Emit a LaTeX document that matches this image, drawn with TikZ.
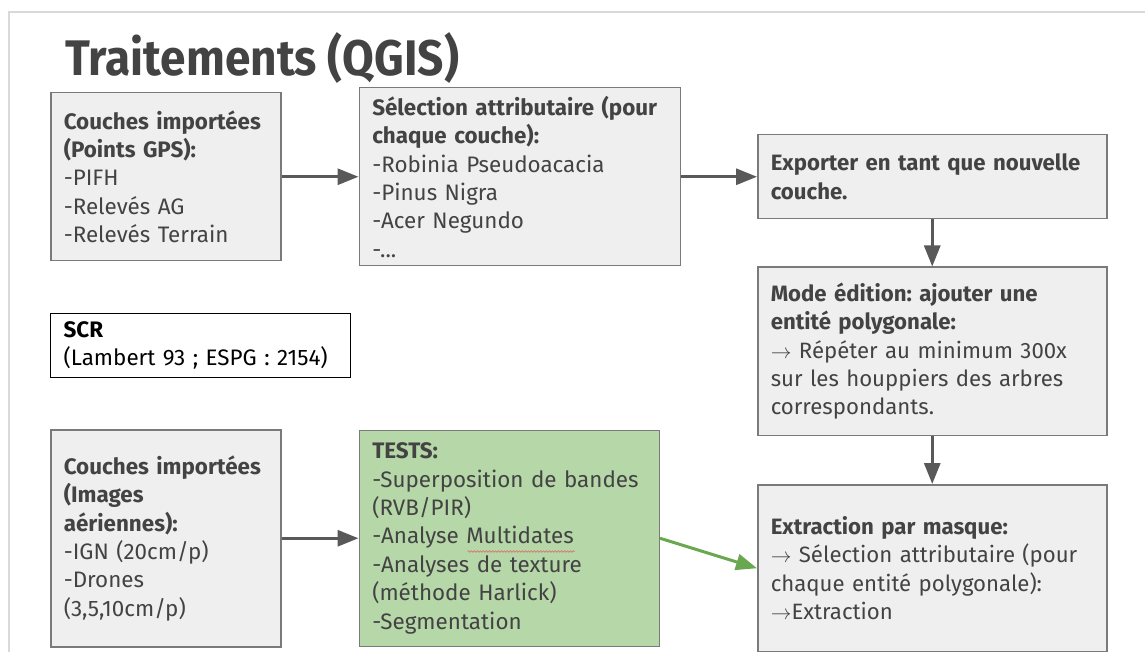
\documentclass[tikz,border=0pt]{standalone}
\usepackage{fontspec}
\usetikzlibrary{positioning,arrows.meta,decorations.pathmorphing}
\setmainfont{Fira Sans}
\newfontfamily\titlefont[FakeStretch=0.92]{Fira Sans}
\definecolor{boxfill}{HTML}{EFEFEF}
\definecolor{boxline}{HTML}{7A7A7A}
\definecolor{testfill}{HTML}{B6D7A8}
\definecolor{ink}{HTML}{434343}
\definecolor{arrowgray}{HTML}{595959}
\definecolor{arrowgreen}{HTML}{6AA84F}
\definecolor{framegray}{HTML}{D9D9D9}
\definecolor{spellred}{HTML}{E06666}
\frenchspacing
\begin{document}
\begin{tikzpicture}[x=1pt, y=-1pt, thick,
    box/.style = {draw=boxline, fill=boxfill, line width=1.5pt, text=ink, align=left,
                  inner xsep=13pt, inner ysep=0pt, font=\fontsize{22.4}{28.4}\selectfont},
    widebox/.style = {box, font=\fontsize{22.2}{28.4}\selectfont},
    testbox/.style = {box, fill=testfill},
    note/.style = {box, draw=black, fill=white, line width=1.2pt, text=black},
    flow/.style = {-{Triangle[length=21pt,width=16pt]}, draw=arrowgray, line width=3pt},
    greenflow/.style = {flow, draw=arrowgreen}]
    \useasboundingbox[fill=white] (0,0) rectangle (1145,652);
    \draw[framegray, line width=2pt] (1145,12) -- (9,12) -- (9,652);
    \node[anchor=base west, inner sep=0pt, text=ink, font=\titlefont\bfseries\fontsize{50}{60}\selectfont] (title) at (65,76) {Traitements (QGIS)};
    % first row
    \node[box, text width=204pt, minimum height=168pt, anchor=north west] (gps) at (50,92)
        {\textbf{Couches importées}\\ \textbf{(Points GPS):}\\ -PIFH\\ -Relevés AG\\ -Relevés Terrain};
    \node[box, text width=295pt, minimum height=178pt, right=77pt of gps] (selection)
        {\textbf{Sélection attributaire (pour}\\ \textbf{chaque couche):}\\ -Robinia Pseudoacacia\\ -Pinus Nigra\\ -Acer Negundo\\ -...};
    \node[widebox, text width=323pt, minimum height=84pt, right=76pt of selection] (export)
        {\textbf{Exporter en tant que nouvelle}\\ \textbf{couche.}};
    \node[widebox, text width=323pt, minimum height=168pt, below=47pt of export] (edition)
        {\textbf{Mode édition: ajouter une}\\ \textbf{entité polygonale:}\\ $\rightarrow$ Répéter au minimum 300x\\ sur les houppiers des arbres\\ correspondants.};
    \node[widebox, text width=323pt, minimum height=167pt, below=48pt of edition] (extraction)
        {\textbf{Extraction par masque:}\\ $\rightarrow$ Sélection attributaire (pour\\ chaque entité polygonale):\\ $\rightarrow$Extraction};
    % SCR
    \node[note, text width=274pt, minimum height=64pt, anchor=north west] (scr) at (50,313)
        {\textbf{SCR}\\ (Lambert 93 ; ESPG : 2154)};
    % second row
    \node[box, text width=204pt, minimum height=217pt, anchor=north west] (images) at (50,429)
        {\textbf{Couches importées}\\ \textbf{(Images}\\ \textbf{aériennes):}\\ -IGN (20cm/p)\\ -Drones\\ (3,5,10cm/p)};
    \node[testbox, text width=274pt, minimum height=216pt, right=77pt of images] (tests)
        {\textbf{TESTS:}\\ -Superposition de bandes\\ (RVB/PIR)\\ -Analyse Multidates\\ -Analyses de texture\\ (méthode Harlick)\\ -Segmentation};
    % spell check squiggle
    \draw[spellred, line width=0.6pt, decorate, decoration={snake, segment length=3pt, amplitude=0.8pt}]
        ([shift={(109,122)}]tests.north west) -- ([shift={(216,122)}]tests.north west);
    \draw[flow] (gps) to (selection);
    \draw[flow] (selection) to (export);
    \draw[flow] (export) to (edition);
    \draw[flow] (edition) to (extraction);
    \draw[flow] (images) to (tests);
    \draw[greenflow] (tests.east) to (extraction.west);
\end{tikzpicture}
\end{document}
